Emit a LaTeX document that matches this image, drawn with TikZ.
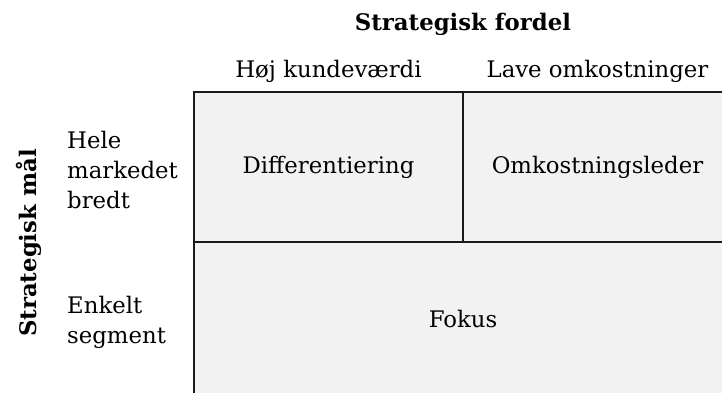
\documentclass[tikz,border=0pt]{standalone}
\usepackage{fontspec}
\setmainfont{DejaVu Serif}
\definecolor{cellfill}{HTML}{F2F2F2}
\definecolor{linecol}{HTML}{1A1A1A}
\begin{document}
\begin{tikzpicture}[x=1pt,y=-1pt,
  cell/.style={draw=linecol,fill=cellfill,line width=1.3pt,inner sep=0pt,
    font=\fontsize{22.8}{30}\selectfont},
  lbl/.style={inner sep=0pt,font=\fontsize{22.8}{30}\selectfont},
  head/.style={inner sep=0pt,font=\fontsize{22.8}{30}\selectfont\bfseries}]
\useasboundingbox (0,0) rectangle (722,392);
\node[cell,minimum width=269pt,minimum height=150pt] (diff) at (328.5,167) {Differentiering};
\node[cell,minimum width=269pt,minimum height=150pt] (omk) at (597.5,167) {Omkostningsleder};
\node[cell,minimum width=538pt,minimum height=156pt] (fok) at (463,320) {\raisebox{2pt}{Fokus}};
\node[head,anchor=base] (title) at (463,30) {Strategisk fordel};
\node[lbl,anchor=base] (c1) at (328.5,77) {Høj kundeværdi};
\node[lbl,anchor=base] (c2) at (597.5,77) {Lave omkostninger};
\node[lbl,anchor=base west,align=left] (r1) at (67,208) {Hele\\markedet\\bredt};
\node[lbl,anchor=base west,align=left] (r2) at (67,343) {Enkelt\\segment};
\node[head,rotate=90] (ylab) at (29,243) {Strategisk mål};
\end{tikzpicture}
\end{document}
